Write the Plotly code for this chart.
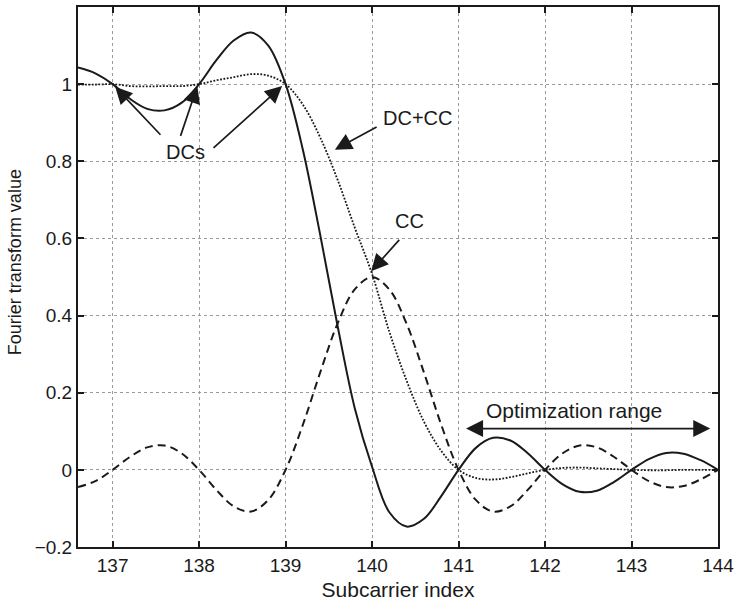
import plotly.graph_objects as go

# Subcarrier index samples
x_idx = [136.6, 136.8, 137.0, 137.2, 137.4, 137.6, 137.8, 138.0, 138.2, 138.4,
         138.6, 138.8, 139.0, 139.2, 139.4, 139.6, 139.8, 140.0, 140.2, 140.4,
         140.6, 140.8, 141.0, 141.2, 141.4, 141.6, 141.8, 142.0, 142.2, 142.4,
         142.6, 142.8, 143.0, 143.2, 143.4, 143.6, 143.8, 144.0]

# DCs (solid)
dc_vals = [1.043, 1.028, 1.000, 0.962, 0.936, 0.932, 0.952, 1.000, 1.062, 1.113,
           1.134, 1.100, 1.000, 0.830, 0.610, 0.375, 0.160, 0.008, -0.110, -0.147,
           -0.127, -0.068, 0.000, 0.057, 0.083, 0.076, 0.043, 0.000, -0.037, -0.057,
           -0.054, -0.031, 0.000, 0.028, 0.044, 0.042, 0.025, 0.000]

# CC (dashed)
cc_vals = [-0.0445, -0.0292, 0.000, 0.0334, 0.0582, 0.0631, 0.0425, 0.000, -0.0520, -0.0946,
           -0.1081, -0.0780, 0.000, 0.1169, 0.2523, 0.3784, 0.4677, 0.500, 0.4677, 0.3784,
           0.2523, 0.1169, 0.000, -0.0780, -0.1081, -0.0946, -0.0520, 0.000, 0.0425, 0.0631,
           0.0582, 0.0334, 0.000, -0.0292, -0.0445, -0.0420, -0.0246, 0.000]

# DC+CC (dotted)
dccc_vals = [0.999, 0.999, 1.000, 0.995, 0.994, 0.995, 0.995, 1.000, 1.010, 1.018,
             1.026, 1.022, 1.000, 0.947, 0.862, 0.753, 0.628, 0.508, 0.358, 0.231,
             0.125, 0.049, 0.000, -0.021, -0.025, -0.019, -0.009, 0.000, 0.005, 0.006,
             0.004, 0.002, 0.000, -0.001, -0.001, 0.000, 0.000, 0.000]

x_ticks = [137, 138, 139, 140, 141, 142, 143, 144]
x_tick_text = ["137", "138", "139", "140", "141", "142", "143", "144"]
y_ticks = [-0.2, 0, 0.2, 0.4, 0.6, 0.8, 1]
y_tick_text = ["\u22120.2", "0", "0.2", "0.4", "0.6", "0.8", "1"]

FONT = "Liberation Sans, Arial, Helvetica, sans-serif"
INK = "#1a1a1a"

fig = go.Figure()
fig.add_trace(go.Scatter(x=x_idx, y=dc_vals, mode="lines",
                         line=dict(color=INK, width=2, shape="spline"),
                         showlegend=False, hoverinfo="skip"))
fig.add_trace(go.Scatter(x=x_idx, y=cc_vals, mode="lines",
                         line=dict(color=INK, width=2, dash="8px,5px", shape="spline"),
                         showlegend=False, hoverinfo="skip"))
fig.add_trace(go.Scatter(x=x_idx, y=dccc_vals, mode="lines",
                         line=dict(color=INK, width=1.8, dash="1.8px,1.6px", shape="spline"),
                         showlegend=False, hoverinfo="skip"))

arrow_style = dict(showarrow=True, arrowhead=2, arrowsize=2.0, arrowwidth=1.7, arrowcolor=INK,
                   axref="x", ayref="y", text="", standoff=0, startstandoff=0)

annotations = []
# DCs arrows
dcs_tips = [(137.03, 0.993), (137.98, 0.995), (138.96, 0.995)]
dcs_tails = [(137.57, 0.865), (137.78, 0.862), (138.15, 0.831)]
for (tx, ty), (sx, sy) in zip(dcs_tips, dcs_tails):
    annotations.append(dict(x=tx, y=ty, ax=sx, ay=sy, **arrow_style))
annotations.append(dict(x=137.84, y=0.823, text="DCs", showarrow=False,
                        font=dict(size=20, color=INK, family=FONT)))
# DC+CC
annotations.append(dict(x=139.57, y=0.830, ax=140.07, ay=0.891, **arrow_style))
annotations.append(dict(x=140.53, y=0.911, text="DC+CC", showarrow=False,
                        font=dict(size=20, color=INK, family=FONT)))
# CC
annotations.append(dict(x=139.99, y=0.515, ax=140.33, ay=0.600, **arrow_style))
annotations.append(dict(x=140.43, y=0.645, text="CC", showarrow=False,
                        font=dict(size=20, color=INK, family=FONT)))
# Optimization range (double-headed)
annotations.append(dict(x=143.91, y=0.107, ax=141.07, ay=0.107, arrowside="end+start",
                        startarrowhead=2, startarrowsize=2.0, **arrow_style))
annotations.append(dict(x=142.34, y=0.153, text="Optimization range", showarrow=False,
                        font=dict(size=21, color=INK, family=FONT)))
# y-axis title (placed as rotated text)
annotations.append(dict(xref="paper", yref="paper", x=-0.098, y=0.528, text="Fourier transform value",
                        textangle=-90, showarrow=False, xanchor="center", yanchor="middle",
                        font=dict(size=18, color=INK, family=FONT)))

axis_common = dict(showline=True, linecolor=INK, linewidth=2, mirror="ticks",
                   ticks="inside", ticklen=6, tickwidth=1.5, tickcolor=INK,
                   showgrid=True, gridcolor="#9a9a9a", gridwidth=1, griddash="dot",
                   zeroline=False, tickfont=dict(size=19, color=INK, family=FONT))

fig.update_layout(
    width=739, height=608,
    margin=dict(l=78, r=17, t=5, b=61),
    paper_bgcolor="white", plot_bgcolor="white",
    font=dict(family=FONT, color=INK),
    xaxis=dict(range=[136.6, 144], tickvals=x_ticks, ticktext=x_tick_text,
               title=dict(text="Subcarrier index", font=dict(size=21, family=FONT, color=INK), standoff=8),
               **axis_common),
    yaxis=dict(range=[-0.2, 1.2], tickvals=y_ticks, ticktext=y_tick_text, **axis_common),
    annotations=annotations,
)

fig.write_html("out.html")
